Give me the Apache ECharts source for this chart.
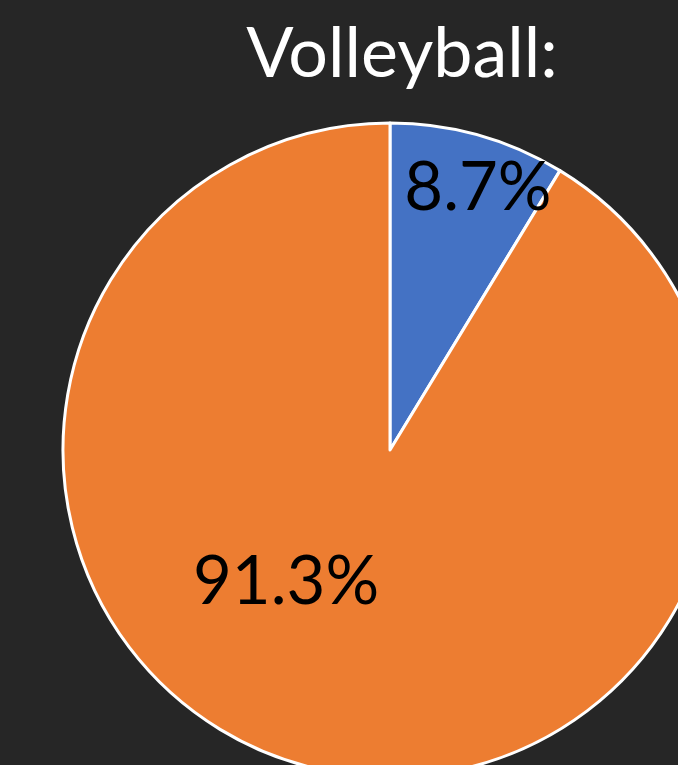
<!DOCTYPE html>
<html>
<head>
<meta charset="utf-8">
<script src="https://cdn.jsdelivr.net/npm/echarts@6/dist/echarts.min.js"></script>
<style>
html,body{margin:0;padding:0;background:#262626;}
#chart{width:678px;height:765px;}
</style>
</head>
<body>
<div id="chart"></div>
<script>
// 数据
var titleText = 'Volleyball:';
var names = ['Yes', 'No'];
var values = [8.7, 91.3];
var colors = ['#4472C4', '#ED7D31'];
// 标签偏移 (Excel 放置位置)
var labelShift = [[43, -101], [-59, -28]];

var dataArr = [];
for (var i = 0; i < names.length; i++) {
    dataArr.push({name: names[i], value: values[i], itemStyle: {color: colors[i]}});
}

var myChart = echarts.init(document.getElementById('chart'));
var option = {
    backgroundColor: '#262626',
    title: {
        text: titleText,
        left: 397,
        top: 14,
        textAlign: 'center',
        textStyle: {color: '#ffffff', fontFamily: 'Lato', fontWeight: 'normal', fontSize: 70}
    },
    series: [{
        type: 'pie',
        center: [390, 450],
        radius: [0, 327],
        startAngle: 90,
        clockwise: true,
        animation: false,
        itemStyle: {borderColor: '#ffffff', borderWidth: 3},
        label: {
            position: 'inside',
            formatter: function (p) { return p.value.toFixed(1) + '%'; },
            color: '#000000',
            fontFamily: 'Lato',
            fontSize: 67
        },
        labelLayout: function (params) {
            var s = labelShift[params.dataIndex];
            return {dx: s[0], dy: s[1]};
        },
        emphasis: {disabled: true},
        data: dataArr
    }]
};
myChart.setOption(option);
</script>
</body>
</html>
